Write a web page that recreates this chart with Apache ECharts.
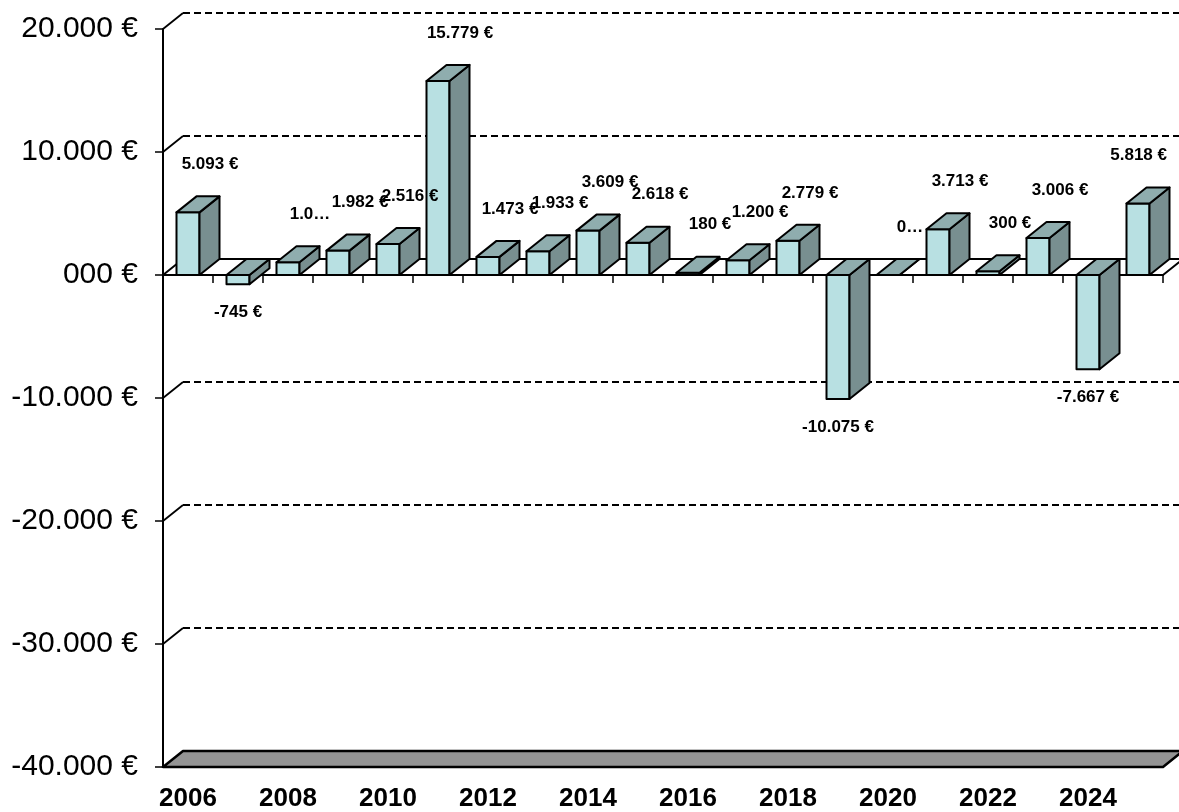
<!DOCTYPE html>
<html>
<head>
<meta charset="utf-8">
<style>
  html, body { margin: 0; padding: 0; background: #fff; }
  #main { width: 1179px; height: 812px; }
</style>
<script src="https://cdn.jsdelivr.net/npm/echarts@6/dist/echarts.min.js"></script>
</head>
<body>
<div id="main"></div>
<script>
// jahre + ergebnis pro jahr
var years = ['2006', '2007', '2008', '2009', '2010', '2011', '2012', '2013', '2014', '2015',
             '2016', '2017', '2018', '2019', '2020', '2021', '2022', '2023', '2024', '2025'];
var amounts = [5093, -745, 1040, 1982, 2516, 15779, 1473, 1933, 3609, 2618,
               180, 1200, 2779, -10075, 0, 3713, 300, 3006, -7667, 5818];

var yTicks = [-40000, -30000, -20000, -10000, 0, 10000, 20000];
var yTickLabels = ['-40.000 €', '-30.000 €', '-20.000 €', '-10.000 €', '000 €', '10.000 €', '20.000 €'];

// labels that came out cut short (chars kept)
var clipped = { '2008': 3, '2020': 1 };

// 3d depth
var DX = 20, DY = -16;
var FONT = '"Liberation Sans", Arial, sans-serif';
var LABEL_FONT = 'bold 17px ' + FONT;

var measureCtx = document.createElement('canvas').getContext('2d');
measureCtx.font = LABEL_FONT;

function euro(v) {
	var s = Math.abs(v).toString().replace(/\B(?=(\d{3})+(?!\d))/g, '.');
	return (v < 0 ? '-' : '') + s + ' €';
}

function poly(pts, fill, w) {
	return {
		type: 'polygon',
		shape: { points: pts },
		style: { fill: fill, stroke: '#000', lineWidth: w || 2, lineJoin: 'round' }
	};
}

// back wall gridlines
function renderGrid(params, api) {
	var cs = params.coordSys;
	var y = api.coord([0, api.value(1)])[1];
	var x0 = cs.x, x1 = cs.x + cs.width;
	return {
		type: 'group',
		children: [
			{ type: 'line', shape: { x1: x0, y1: y, x2: x0 + DX, y2: y + DY },
			  style: { stroke: '#000', lineWidth: 1.8 } },
			{ type: 'line', shape: { x1: x0 + DX, y1: y + DY, x2: x1 + DX, y2: y + DY },
			  style: { stroke: '#000', lineWidth: 2, lineDash: [7, 4] } }
		]
	};
}

// floor (gray) + zero plane (white)
function renderPlane(params, api) {
	var cs = params.coordSys;
	var v = api.value(1);
	var y = api.coord([0, v])[1];
	var x0 = cs.x, x1 = cs.x + cs.width;
	var isFloor = v === yTicks[0];
	return poly([[x0, y], [x1, y], [x1 + DX, y + DY], [x0 + DX, y + DY]],
		isFloor ? '#949494' : '#fff', isFloor ? 2.5 : 2);
}

function renderBar(params, api) {
	var i = api.value(0);
	var c = api.coord([i, 0]);
	var t = api.coord([i, api.value(1)]);
	var band = api.size([1, 0])[0];
	var l = c[0] - band * 0.23, r = c[0] + band * 0.23;
	var yA = Math.min(c[1], t[1]), yB = Math.max(c[1], t[1]);
	return {
		type: 'group',
		children: [
			poly([[l, yA], [r, yA], [r, yB], [l, yB]], '#b8e0e2'),
			poly([[r, yA], [r + DX, yA + DY], [r + DX, yB + DY], [r, yB]], '#788f90'),
			poly([[l, yA], [r, yA], [r + DX, yA + DY], [l + DX, yA + DY]], '#8fadae')
		]
	};
}

function renderLabel(params, api) {
	var i = api.value(0), v = api.value(1);
	var c = api.coord([i, 0]);
	var t = api.coord([i, v]);
	var txt = euro(v);
	var yr = years[i];
	if (clipped[yr] != null) txt = txt.slice(0, clipped[yr]) + '…';
	var x, y;
	if (v < 0) { x = c[0]; y = t[1] + 28; }
	else { x = c[0] + 22; y = t[1] - 48; }
	// keep inside the picture
	var half = measureCtx.measureText(txt).width / 2;
	x = Math.min(x, api.getWidth() - 12 - half);
	return {
		type: 'text',
		x: x, y: y,
		style: {
			text: txt, fill: '#000', font: LABEL_FONT,
			align: 'center', verticalAlign: 'middle'
		}
	};
}

var chart = echarts.init(document.getElementById('main'));

var barData = amounts.map(function(v, i) { return [i, v]; });

chart.setOption({
	animation: false,
	backgroundColor: '#fff',
	grid: { left: 163, right: 16, top: 29, bottom: 43 },
	xAxis: [{
		type: 'category',
		data: years,
		axisLine: { onZero: true, lineStyle: { color: '#000', width: 2 } },
		axisTick: { show: true, interval: 0, length: 8, lineStyle: { color: '#000', width: 1.5 } },
		axisLabel: { show: false },
		splitLine: { show: false }
	}, {
		type: 'category',
		data: years,
		position: 'bottom',
		axisLine: { show: false, onZero: false },
		axisTick: { show: false },
		axisLabel: {
			interval: 1, margin: 19, color: '#000',
			fontFamily: FONT, fontWeight: 'bold', fontSize: 26
		}
	}],
	yAxis: {
		type: 'value',
		min: yTicks[0], max: yTicks[yTicks.length - 1], interval: 10000,
		axisLine: { show: true, lineStyle: { color: '#000', width: 2 } },
		axisTick: { show: true, length: 8, lineStyle: { color: '#000', width: 1.5 } },
		splitLine: { show: false },
		axisLabel: {
			margin: 25, color: '#000', fontFamily: FONT, fontSize: 30,
			formatter: function(v) { return yTickLabels[yTicks.indexOf(v)]; }
		}
	},
	series: [{
		type: 'custom', name: 'grid', z: 1, silent: true,
		renderItem: renderGrid,
		data: yTicks.filter(function(v) { return v !== 0 && v !== yTicks[0]; })
			.map(function(v) { return [0, v]; })
	}, {
		type: 'custom', name: 'planes', z: 2, silent: true,
		renderItem: renderPlane,
		data: [[0, yTicks[0]], [0, 0]]
	}, {
		type: 'custom', name: 'bars', z: 3,
		renderItem: renderBar,
		data: barData
	}, {
		type: 'custom', name: 'labels', z: 4, silent: true,
		renderItem: renderLabel,
		data: barData
	}]
});
</script>
</body>
</html>
